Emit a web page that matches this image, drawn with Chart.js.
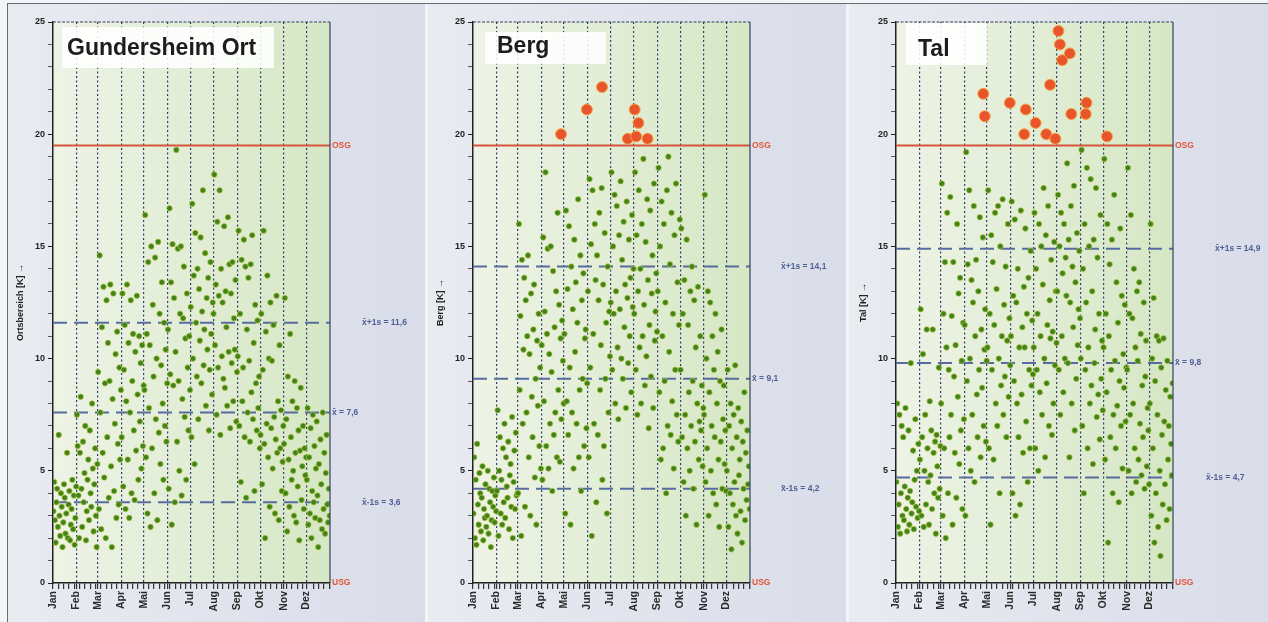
<!DOCTYPE html>
<html>
<head>
<meta charset="utf-8">
<title>Temperaturspannen</title>
<script src="https://cdn.jsdelivr.net/npm/chart.js@4.4.1/dist/chart.umd.min.js"></script>
<style>
  body { margin: 0; background: #ffffff; }
  #rahmen { position: relative; width: 1268px; height: 622px; overflow: hidden; background: #f3f4f7; }
  #linie { position: absolute; left: 7px; top: 3px; width: 1262px; height: 622px; border: 1px solid #6a6d75; box-sizing: border-box; }
  .feld { position: absolute; top: 4px; height: 618px; background: linear-gradient(to right, #e9ebf1, #d9dde9); }
  canvas { position: absolute; top: 0; }
</style>
</head>
<body>
<div id="rahmen">
  <div class="feld" style="left:8px;width:417px"></div>
  <div class="feld" style="left:428px;width:418px"></div>
  <div class="feld" style="left:849px;width:419px"></div>
  <div id="linie"></div>
  <canvas id="c0" width="416" height="622" style="left:8px"></canvas>
  <canvas id="c1" width="416" height="622" style="left:428px"></canvas>
  <canvas id="c2" width="416" height="622" style="left:851px"></canvas>
</div>
<script>
// Monate und Achsen
const monate = ['Jan', 'Feb', 'Mar', 'Apr', 'Mai', 'Jun', 'Jul', 'Aug', 'Sep', 'Okt', 'Nov', 'Dez'];
const monatsAnfang = [0, 31, 59, 90, 120, 151, 181, 212, 243, 273, 304, 334];
const monatsTage = [31, 28, 31, 30, 31, 30, 31, 31, 30, 31, 30, 31];
const yTicks = [0, 5, 10, 15, 20, 25];

const titel = ['Gundersheim Ort', 'Berg', 'Tal'];
const achsenTitel = ['Ortsbereich [K] \u2192', 'Berg [K] \u2192', 'Tal [K] \u2192'];

// Kennwerte (x̄, x̄+1s, x̄-1s) und Grenzen
const mittelwert = [7.6, 9.1, 9.8];
const plusS = [11.6, 14.1, 14.9];
const minusS = [3.6, 4.2, 4.7];
const OSG = 19.5;
const USG = 0;

// Tagesspannen [K], je Zeile ein Monat (aus dem Bild geschaetzt)
const ortWerte = [
  [3.2, 4.5, 2.8, 1.8, 3.6, 4.2, 2.5, 6.6, 3.0, 2.1, 4.0, 3.4, 1.6, 2.7, 4.4, 3.8, 2.2, 3.1, 5.8, 2.0, 3.5, 4.1, 1.9, 2.6, 3.3, 4.6, 2.4, 3.9, 1.7, 2.9, 4.3],
  [7.5, 6.1, 3.9, 2.0, 5.8, 8.3, 4.2, 2.5, 6.3, 3.6, 4.9, 7.0, 1.9, 3.2, 4.6, 5.5, 2.8, 6.8, 4.0, 3.4, 8.0, 5.1, 2.3, 4.4, 6.0, 3.0, 1.6, 5.3],
  [9.4, 3.3, 14.6, 7.6, 2.4, 11.4, 5.8, 13.2, 4.7, 8.9, 2.0, 12.6, 6.5, 10.7, 3.8, 9.0, 13.3, 5.2, 1.6, 8.2, 12.9, 4.1, 7.1, 10.2, 2.9, 11.2, 6.2, 3.5, 9.6, 5.5, 8.6],
  [6.5, 12.9, 4.3, 9.5, 11.5, 3.3, 8.1, 13.3, 5.5, 10.7, 2.9, 7.6, 12.6, 4.0, 9.0, 11.1, 6.8, 3.7, 10.3, 5.9, 12.8, 8.4, 4.6, 11.0, 7.2, 9.8, 5.1, 10.6, 6.1, 8.8],
  [8.6, 16.4, 5.6, 11.1, 3.1, 14.3, 7.8, 10.6, 2.5, 15.0, 6.0, 12.4, 9.2, 4.0, 14.5, 7.3, 10.0, 2.8, 15.2, 6.7, 12.0, 5.3, 9.7, 13.4, 8.0, 4.6, 11.6, 7.0, 10.4, 6.3, 8.9],
  [11.3, 4.2, 16.7, 9.3, 13.4, 2.6, 15.1, 8.8, 12.7, 3.6, 10.3, 19.3, 6.3, 14.9, 9.0, 5.0, 12.0, 15.0, 3.9, 8.2, 11.8, 14.1, 7.4, 10.9, 4.6, 12.9, 9.6, 6.8, 11.0, 8.6],
  [12.3, 6.5, 16.9, 10.0, 13.7, 5.3, 15.6, 11.6, 9.2, 14.0, 7.3, 13.1, 10.8, 15.4, 8.9, 12.1, 17.5, 9.7, 11.3, 14.7, 7.9, 12.7, 10.4, 13.6, 6.8, 9.5, 14.3, 11.1, 8.4, 12.5, 12.0],
  [18.2, 10.6, 13.3, 7.5, 16.1, 9.6, 12.8, 17.5, 6.6, 14.0, 10.1, 12.5, 9.1, 15.9, 8.7, 13.0, 11.4, 7.9, 16.3, 10.3, 14.2, 6.9, 12.9, 9.8, 14.3, 8.1, 11.8, 10.4, 13.5, 7.2, 9.4],
  [10.1, 15.7, 7.0, 12.0, 4.5, 14.4, 8.1, 9.6, 15.3, 6.5, 14.1, 3.8, 11.3, 7.6, 13.6, 9.9, 6.3, 14.2, 8.5, 15.5, 7.3, 10.7, 4.1, 12.4, 8.9, 6.8, 11.7, 7.8, 9.2, 6.0],
  [6.6, 12.0, 4.4, 9.5, 15.7, 6.2, 2.0, 11.2, 7.1, 13.7, 5.6, 10.0, 3.4, 12.5, 6.9, 9.9, 5.1, 11.5, 7.4, 3.1, 6.4, 12.8, 5.8, 8.1, 2.8, 10.6, 6.0, 7.7, 4.1, 5.4, 7.0],
  [6.2, 12.7, 4.0, 7.3, 2.3, 9.2, 5.5, 3.4, 11.1, 6.5, 4.6, 8.1, 5.0, 3.0, 9.0, 5.8, 2.7, 7.8, 4.3, 6.8, 1.9, 5.9, 8.7, 3.7, 5.2, 7.0, 3.3, 6.0, 4.8, 5.6],
  [4.6, 7.8, 2.6, 5.6, 3.1, 6.9, 2.0, 4.1, 7.5, 3.6, 6.1, 2.9, 5.1, 7.2, 3.9, 1.6, 5.3, 2.8, 6.4, 4.4, 2.4, 7.6, 3.3, 5.8, 2.2, 4.9, 6.6, 3.5, 2.7, 4.2, 3.0]
];

const bergWerte = [
  [3.1, 5.6, 2.0, 4.6, 1.7, 6.2, 3.5, 2.6, 4.9, 4.0, 2.3, 3.8, 5.2, 1.9, 3.3, 2.9, 4.4, 2.5, 3.0, 5.0, 2.2, 4.2, 3.6, 1.6, 2.8, 4.1, 3.4, 4.7, 2.7, 3.9, 3.2],
  [4.1, 7.7, 2.1, 5.0, 6.5, 3.1, 4.6, 2.6, 6.0, 3.6, 7.1, 2.9, 5.6, 4.3, 3.8, 6.3, 2.4, 4.8, 5.3, 3.4, 7.4, 2.0, 4.5, 5.9, 3.3, 6.7, 3.9, 4.0],
  [4.0, 16.0, 8.6, 11.9, 2.1, 14.4, 7.1, 10.4, 13.6, 3.4, 12.6, 7.6, 11.0, 14.6, 5.6, 10.2, 3.0, 12.9, 8.3, 6.5, 11.3, 13.3, 4.7, 9.1, 2.6, 10.8, 7.9, 12.0, 6.1, 9.6, 5.1],
  [10.6, 4.6, 15.4, 8.1, 12.1, 18.3, 6.1, 11.1, 14.9, 5.1, 10.2, 7.1, 15.0, 9.4, 4.1, 13.9, 6.6, 11.4, 7.6, 13.0, 5.6, 16.5, 8.6, 12.4, 5.4, 10.9, 7.3, 11.7, 9.9, 8.0],
  [11.1, 3.1, 16.6, 8.1, 13.1, 6.6, 15.9, 9.6, 2.6, 14.1, 7.6, 12.2, 5.1, 15.3, 10.3, 13.4, 7.1, 11.6, 17.1, 5.6, 8.6, 14.6, 4.1, 12.6, 9.1, 13.8, 6.1, 10.9, 11.3, 6.9, 8.9],
  [13.0, 5.6, 18.0, 9.6, 15.1, 2.1, 17.5, 11.1, 7.1, 16.0, 13.5, 3.6, 14.6, 6.6, 12.6, 16.5, 8.6, 10.6, 17.6, 4.6, 13.3, 6.1, 15.6, 9.1, 11.6, 3.1, 14.1, 7.6, 12.1, 10.1],
  [12.5, 18.3, 9.5, 15.0, 12.0, 17.3, 8.0, 13.0, 16.8, 10.5, 7.3, 15.5, 12.2, 17.9, 10.0, 14.4, 9.1, 16.1, 11.4, 13.3, 7.8, 17.0, 12.7, 9.8, 15.3, 11.0, 13.6, 8.5, 16.4, 12.3, 14.0],
  [12.0, 18.3, 9.5, 15.5, 7.5, 13.0, 17.5, 10.5, 14.0, 8.0, 16.0, 11.0, 18.9, 12.4, 8.8, 15.2, 10.1, 17.1, 13.5, 6.9, 11.5, 16.6, 9.2, 12.9, 14.6, 7.8, 17.8, 10.8, 12.1, 13.8, 11.2],
  [13.0, 18.5, 8.5, 15.0, 5.5, 17.0, 11.0, 6.0, 16.0, 9.0, 12.5, 4.0, 17.5, 7.0, 19.0, 10.3, 14.2, 6.6, 16.5, 8.1, 12.0, 5.1, 15.5, 9.5, 17.8, 7.5, 13.4, 6.3, 11.5, 16.2],
  [9.5, 15.8, 6.5, 12.0, 4.5, 13.5, 7.5, 3.0, 15.3, 6.0, 11.5, 8.5, 5.0, 13.0, 7.0, 14.1, 9.0, 4.2, 12.6, 6.3, 10.5, 2.6, 8.0, 13.2, 5.5, 7.2, 11.0, 6.8, 8.8, 5.2, 7.8],
  [7.5, 17.3, 4.5, 10.0, 6.0, 13.0, 3.0, 8.5, 12.5, 5.0, 7.0, 11.0, 4.0, 9.5, 6.5, 12.0, 3.5, 8.0, 10.3, 5.5, 2.5, 9.0, 6.3, 11.3, 4.2, 7.3, 8.8, 5.3, 6.8, 4.1],
  [5.0, 9.5, 2.5, 7.0, 4.0, 8.0, 1.5, 6.0, 3.5, 7.5, 4.5, 9.7, 3.0, 6.5, 2.2, 7.8, 4.8, 5.5, 3.2, 7.2, 1.8, 6.3, 4.2, 8.5, 2.8, 5.8, 3.7, 6.8, 4.4, 5.2, 3.3]
];

const talWerte = [
  [4.5, 8.0, 2.5, 3.5, 7.5, 2.2, 4.0, 7.0, 3.0, 6.5, 2.8, 4.3, 7.8, 3.3, 2.3, 3.8, 6.8, 2.6, 4.1, 9.8, 3.1, 3.6, 5.9, 2.4, 4.6, 7.3, 3.4, 5.0, 2.9, 6.2, 3.2],
  [5.5, 12.2, 3.0, 6.5, 10.2, 2.5, 5.0, 7.5, 3.5, 11.3, 6.0, 4.5, 2.6, 8.1, 4.8, 6.8, 3.3, 11.3, 5.8, 4.0, 6.3, 2.2, 6.6, 5.2, 3.8, 9.6, 4.2, 6.1],
  [8.0, 17.8, 3.0, 12.0, 6.0, 14.3, 2.0, 10.5, 16.5, 4.0, 9.5, 6.5, 17.2, 7.5, 11.9, 2.6, 14.3, 9.2, 5.8, 10.6, 3.8, 16.0, 8.3, 12.9, 5.3, 13.6, 6.8, 9.9, 3.3, 11.6, 7.3],
  [11.5, 3.0, 19.2, 9.0, 14.2, 6.0, 17.5, 10.0, 5.0, 13.5, 7.5, 12.5, 16.8, 4.5, 11.0, 14.4, 8.4, 6.5, 13.0, 9.5, 16.3, 5.6, 11.3, 8.7, 15.4, 7.0, 10.4, 12.2, 6.3, 9.9],
  [10.5, 17.5, 6.0, 12.0, 2.6, 15.5, 9.5, 14.3, 5.5, 11.5, 16.5, 8.0, 13.1, 7.0, 16.8, 10.0, 4.0, 15.0, 8.8, 11.0, 17.1, 7.5, 12.4, 9.2, 14.1, 6.5, 10.8, 16.0, 8.3, 11.8, 9.7],
  [11.0, 17.0, 4.0, 12.8, 9.0, 16.2, 3.0, 12.5, 8.0, 14.0, 6.5, 10.5, 3.5, 16.6, 8.4, 11.4, 5.8, 13.2, 10.5, 15.8, 7.2, 12.0, 4.5, 13.6, 9.5, 6.0, 14.8, 8.8, 11.7, 9.3],
  [10.5, 16.5, 6.0, 14.0, 9.5, 12.0, 5.0, 16.0, 8.5, 11.0, 15.0, 7.5, 13.3, 17.6, 10.0, 5.6, 15.5, 8.9, 11.5, 16.8, 7.0, 12.6, 10.9, 14.4, 6.6, 11.2, 8.0, 15.2, 9.7, 13.0, 10.7],
  [13.0, 17.3, 9.5, 15.0, 7.5, 16.5, 11.0, 13.8, 8.5, 16.0, 10.0, 14.5, 12.8, 18.7, 9.8, 15.3, 5.6, 12.5, 16.8, 8.0, 14.1, 11.4, 17.7, 6.8, 13.4, 9.1, 15.6, 10.6, 12.2, 14.8, 11.8],
  [10.0, 19.3, 7.0, 14.0, 4.0, 16.0, 9.5, 12.5, 18.5, 6.0, 10.5, 15.0, 8.0, 18.0, 8.8, 13.0, 5.3, 15.3, 9.8, 11.3, 17.6, 7.4, 14.5, 8.4, 12.0, 6.4, 16.4, 9.1, 10.8, 7.7],
  [10.5, 18.9, 5.5, 12.0, 8.5, 16.0, 1.8, 11.0, 14.2, 6.5, 9.5, 15.3, 4.0, 7.5, 17.3, 9.9, 6.0, 13.4, 7.9, 11.6, 3.6, 9.0, 15.8, 7.0, 12.8, 5.1, 10.2, 8.7, 12.4, 7.2, 9.6],
  [9.5, 18.5, 5.0, 12.0, 7.5, 16.4, 4.0, 11.8, 8.0, 14.0, 6.0, 10.5, 4.5, 13.0, 9.9, 5.5, 13.4, 7.1, 11.1, 4.8, 8.8, 6.5, 12.5, 4.2, 9.2, 10.8, 5.2, 7.8, 6.8, 4.4],
  [8.0, 16.0, 3.0, 10.0, 6.0, 12.7, 1.8, 9.0, 4.0, 11.0, 7.5, 2.5, 10.8, 5.0, 1.2, 9.6, 6.6, 3.5, 10.9, 7.2, 4.4, 8.6, 2.8, 9.9, 5.5, 7.0, 3.3, 8.3, 6.2, 4.8, 8.9]
];

// Ueberschreitungen der OSG (Tag im Jahr, Wert)
const bergSpitzenTag = [116, 150, 170, 204, 213, 215, 218, 230];
const bergSpitzenWert = [20.0, 21.1, 22.1, 19.8, 21.1, 19.9, 20.5, 19.8];
const talSpitzenTag = [115, 117, 150, 169, 171, 184, 198, 203, 210, 214, 216, 219, 229, 231, 250, 251, 278];
const talSpitzenWert = [21.8, 20.8, 21.4, 20.0, 21.1, 20.5, 20.0, 22.2, 19.8, 24.6, 24.0, 23.3, 23.6, 20.9, 20.9, 21.4, 19.9];

const felder = [
  { werte: ortWerte, tage: [], spitzen: [], box: [9, 5, 212, 41], text: [14, 33], plusDx: 32, minusDx: 32 },
  { werte: bergWerte, tage: bergSpitzenTag, spitzen: bergSpitzenWert, box: [12, 10, 121, 32], text: [24, 31], plusDx: 31, minusDx: 31 },
  { werte: talWerte, tage: talSpitzenTag, spitzen: talSpitzenWert, box: [10, 1, 81, 42], text: [22, 34], plusDx: 42, minusDx: 33 }
];

Chart.defaults.font.family = '"Liberation Sans", Arial, sans-serif';
Chart.defaults.color = '#222';

// x-Ticks: Monatsanfaenge plus Wochenstriche
const xTicks = monatsAnfang.slice();
for (let d = 7; d < 365; d += 7) {
  if (monatsAnfang.every(a => Math.abs(a - d) > 2)) xTicks.push(d);
}
xTicks.push(365);
xTicks.sort((a, b) => a - b);

function punkte(werte) {
  const out = [];
  werte.forEach((monat, m) => {
    monat.forEach((v, i) => {
      out.push({ x: monatsAnfang[m] + (i + 0.5) * monatsTage[m] / monat.length, y: v });
    });
  });
  return out;
}

function linie(v) {
  return [{ x: 0, y: v }, { x: 365, y: v }];
}

function komma(v) {
  return v.toFixed(1).replace('.', ',');
}

const dekoPlugin = {
  id: 'deko',
  beforeDraw(chart) {
    const { ctx, chartArea: a } = chart;
    const g = ctx.createLinearGradient(a.left, 0, a.right, 0);
    g.addColorStop(0, '#eef3e6');
    g.addColorStop(1, '#d5e7c4');
    ctx.save();
    ctx.fillStyle = g;
    ctx.fillRect(a.left, a.top, a.right - a.left, a.bottom - a.top);
    ctx.restore();
  },
  afterDraw(chart) {
    const { ctx, chartArea: a, scales } = chart;
    const p = chart.options.plugins.deko;
    const f = felder[p.nr];
    ctx.save();
    // Rahmen oben und rechts
    ctx.strokeStyle = '#34405e';
    ctx.lineWidth = 1.2;
    ctx.setLineDash([3, 1.5]);
    ctx.beginPath();
    ctx.moveTo(a.left, a.top);
    ctx.lineTo(a.right, a.top);
    ctx.stroke();
    ctx.setLineDash([]);
    ctx.beginPath();
    ctx.moveTo(a.right, a.top);
    ctx.lineTo(a.right, a.bottom);
    ctx.stroke();
    // Titelkasten
    ctx.fillStyle = 'rgba(255,255,255,0.88)';
    ctx.fillRect(a.left + f.box[0], a.top + f.box[1], f.box[2], f.box[3]);
    ctx.fillStyle = '#1c1c1c';
    ctx.font = 'bold 23px "Liberation Sans", Arial, sans-serif';
    ctx.textBaseline = 'alphabetic';
    ctx.fillText(titel[p.nr], a.left + f.text[0], a.top + f.text[1]);
    // Beschriftungen rechts
    const y = scales.y;
    ctx.font = 'bold 8.5px "Liberation Sans", Arial, sans-serif';
    ctx.textBaseline = 'middle';
    ctx.fillStyle = '#e2553b';
    ctx.fillText('OSG', a.right + 2, y.getPixelForValue(OSG));
    ctx.fillText('USG', a.right + 2, y.getPixelForValue(USG));
    ctx.fillStyle = '#4f5f94';
    ctx.fillText('x\u0304 = ' + komma(mittelwert[p.nr]), a.right + 2, y.getPixelForValue(mittelwert[p.nr]));
    ctx.fillText('x\u0304+1s = ' + komma(plusS[p.nr]), a.right + f.plusDx, y.getPixelForValue(plusS[p.nr]));
    ctx.fillText('x\u0304-1s = ' + komma(minusS[p.nr]), a.right + f.minusDx, y.getPixelForValue(minusS[p.nr]));
    ctx.restore();
  }
};

felder.forEach((f, nr) => {
  const gruen = punkte(f.werte);
  const rot = f.tage.map((t, i) => ({ x: t, y: f.spitzen[i] }));
  new Chart(document.getElementById('c' + nr), {
    type: 'scatter',
    data: {
      datasets: [
        { data: rot, order: 0, pointRadius: 5.5, backgroundColor: '#e8542c', borderColor: '#f3a545', borderWidth: 1 },
        { data: gruen, order: 1, pointRadius: 2.8, backgroundColor: '#3f821e', borderColor: 'rgba(190,205,60,0.8)', borderWidth: 0.8 },
        { type: 'line', data: linie(OSG), order: 2, borderColor: '#d6553a', borderWidth: 2, pointRadius: 0 },
        { type: 'line', data: linie(plusS[nr]), order: 3, borderColor: '#566c9e', borderWidth: 2, borderDash: [14, 7], pointRadius: 0 },
        { type: 'line', data: linie(mittelwert[nr]), order: 3, borderColor: '#566c9e', borderWidth: 2, borderDash: [14, 7], pointRadius: 0 },
        { type: 'line', data: linie(minusS[nr]), order: 3, borderColor: '#566c9e', borderWidth: 2, borderDash: [14, 7], pointRadius: 0 }
      ]
    },
    options: {
      responsive: false,
      animation: false,
      events: [],
      layout: { padding: { left: 0, right: 94, top: 22, bottom: 0 } },
      plugins: {
        legend: { display: false },
        tooltip: { enabled: false },
        deko: { nr: nr }
      },
      scales: {
        x: {
          type: 'linear',
          min: 0,
          max: 365,
          afterFit: s => { s.height = 39; },
          afterBuildTicks: s => { s.ticks = xTicks.map(v => ({ value: v })); },
          ticks: {
            autoSkip: false,
            minRotation: 90,
            maxRotation: 90,
            padding: 2,
            font: { size: 10.5, weight: 'bold' },
            color: '#2a2a2a',
            callback: v => {
              const i = monatsAnfang.indexOf(v);
              return i >= 0 ? monate[i] : '';
            }
          },
          grid: {
            drawOnChartArea: true,
            color: c => (c.tick && c.tick.value > 0 && monatsAnfang.includes(c.tick.value)) ? '#2f3d6c' : 'rgba(0,0,0,0)',
            lineWidth: 1.2,
            tickLength: 6,
            tickColor: '#333'
          },
          border: { color: '#222', width: 1.5, dash: [2, 2.5] }
        },
        y: {
          min: 0,
          max: 25,
          afterFit: s => { s.width = 45; },
          afterBuildTicks: s => {
            const t = [];
            for (let v = 0; v <= 25; v++) t.push({ value: v });
            s.ticks = t;
          },
          ticks: {
            padding: 3,
            font: { size: 9, weight: 'bold' },
            color: '#222',
            callback: v => yTicks.includes(v) ? String(v) : ''
          },
          grid: {
            drawOnChartArea: false,
            tickLength: 5,
            tickColor: c => (c.tick && yTicks.includes(c.tick.value)) ? '#222' : '#555'
          },
          border: { color: '#222', width: 1.5 },
          title: {
            display: true,
            text: achsenTitel[nr],
            font: { size: 9, weight: 'bold' },
            color: '#222',
            padding: { top: 7, bottom: 0 }
          }
        }
      }
    },
    plugins: [dekoPlugin]
  });
});
</script>
</body>
</html>
